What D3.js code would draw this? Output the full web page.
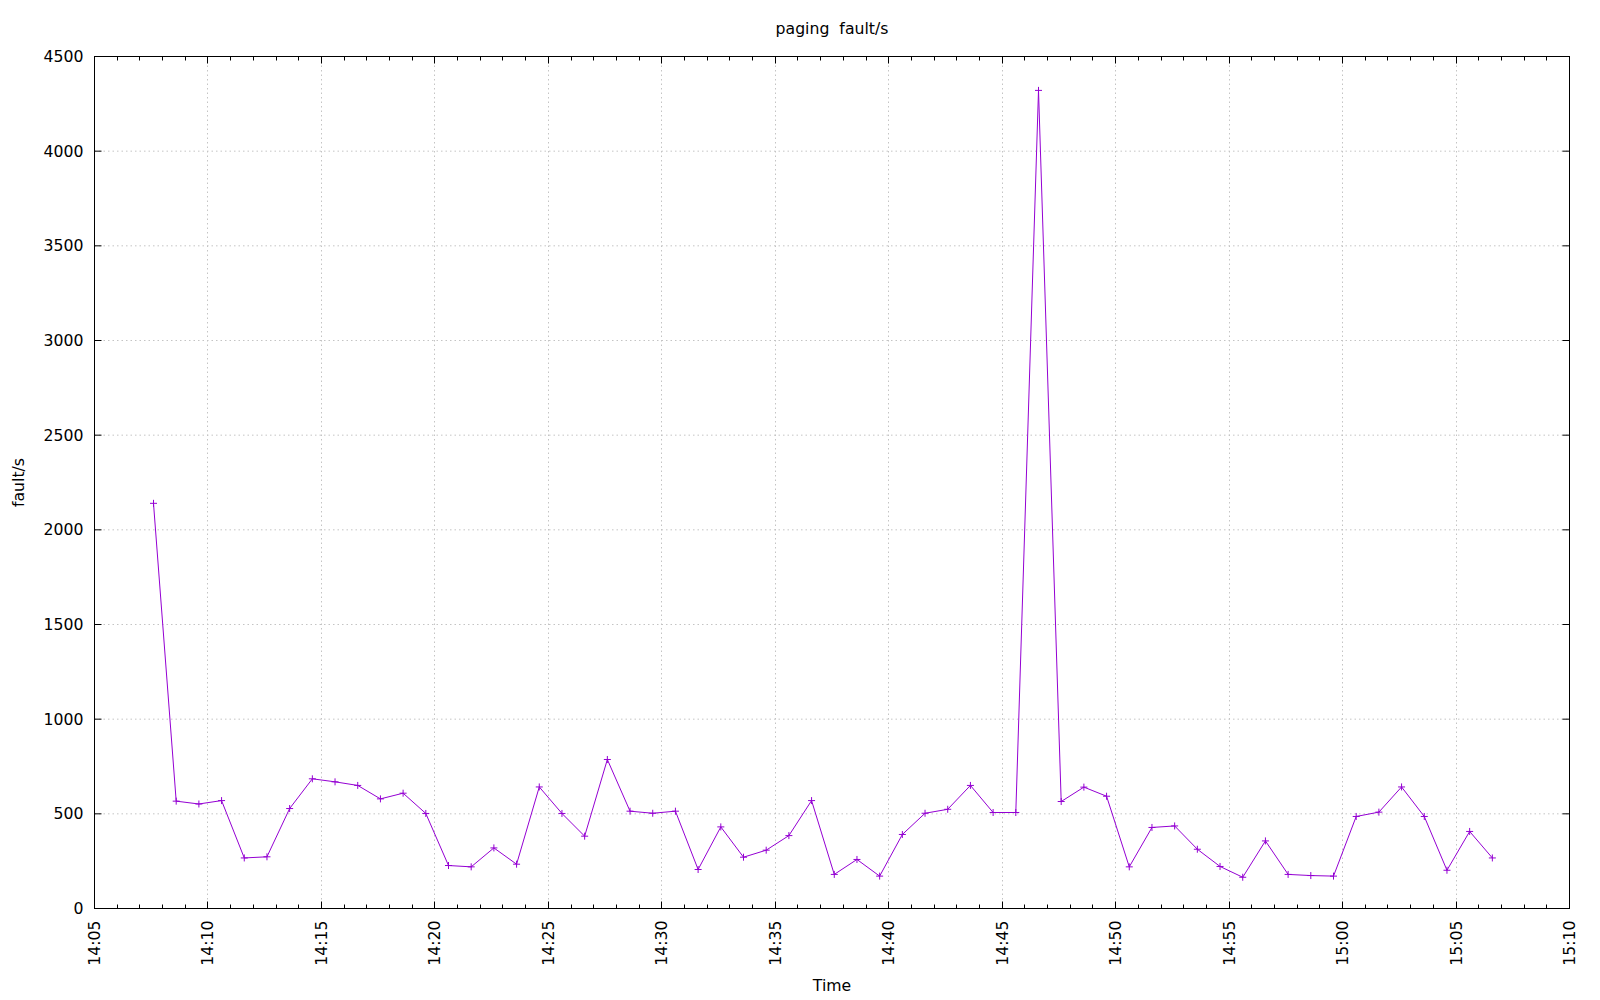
<!DOCTYPE html>
<html>
<head>
<meta charset="utf-8">
<script src="https://cdn.jsdelivr.net/npm/d3@7"></script>
<style>
  body { margin: 0; background: #fff; }
  text { font-family: "DejaVu Sans", sans-serif; font-size: 15.7px; fill: #000; }
</style>
</head>
<body>
<div id="chart"></div>
<script>
const TITLE = "paging  fault/s";
const X_LABEL = "Time";
const Y_LABEL = "fault/s";

const xDomain = ["14:05:00", "15:10:00"];
const yDomain = [0, 4500];

const times = [
  "14:07:36", "14:08:36", "14:09:36", "14:10:36", "14:11:36", "14:12:36", "14:13:36", "14:14:36", "14:15:36", "14:16:36",
  "14:17:36", "14:18:36", "14:19:36", "14:20:36", "14:21:36", "14:22:36", "14:23:36", "14:24:36", "14:25:36", "14:26:36",
  "14:27:36", "14:28:36", "14:29:36", "14:30:36", "14:31:36", "14:32:36", "14:33:36", "14:34:36", "14:35:36", "14:36:36",
  "14:37:36", "14:38:36", "14:39:36", "14:40:36", "14:41:36", "14:42:36", "14:43:36", "14:44:36", "14:45:36", "14:46:36",
  "14:47:36", "14:48:36", "14:49:36", "14:50:36", "14:51:36", "14:52:36", "14:53:36", "14:54:36", "14:55:36", "14:56:36",
  "14:57:36", "14:58:36", "14:59:36", "15:00:36", "15:01:36", "15:02:36", "15:03:36", "15:04:36", "15:05:36", "15:06:36"
];

const faults = [
  2140, 567, 552, 570, 267, 273, 528, 685, 669, 650,
  579, 609, 502, 227, 220, 320, 234, 642, 502, 382,
  787, 514, 503, 514, 206, 431, 271, 308, 385, 570,
  180, 259, 171, 391, 503, 524, 650, 507, 507, 4321,
  565, 641, 593, 220, 428, 436, 313, 222, 165, 357,
  180, 174, 171, 486, 509, 642, 486, 202, 407, 267
];

const width = 1600;
const height = 1000;
const plotLeft = 94.5, plotRight = 1569.5, plotTop = 56.5, plotBottom = 908.5;
const lineColor = "#9400d3";

const parseTime = d3.timeParse("%H:%M:%S");
const data = times.map((t, i) => ({ t: parseTime(t), v: faults[i] }));

const x = d3.scaleTime().domain(xDomain.map(parseTime)).range([plotLeft, plotRight]);
const y = d3.scaleLinear().domain(yDomain).range([plotBottom, plotTop]);

const xMajor = x.ticks(d3.timeMinute.every(5));
const xMinor = x.ticks(d3.timeMinute.every(1));
const yMajor = y.ticks(10);

const svg = d3.select("#chart")
  .append("svg")
  .attr("width", width)
  .attr("height", height);

const xTickPos = d => Math.round(x(d) - 0.5) + 0.5;
const isMajor = d => d.getMinutes() % 5 === 0;

// Grid
const grid = svg.append("g")
  .attr("stroke", "#c4c4c4")
  .attr("stroke-width", 1)
  .attr("stroke-dasharray", "1.5,3");

grid.selectAll(".vgrid")
  .data(xMajor)
  .enter()
  .append("line")
  .attr("x1", xTickPos)
  .attr("x2", xTickPos)
  .attr("y1", plotBottom)
  .attr("y2", plotTop);

grid.selectAll(".hgrid")
  .data(yMajor)
  .enter()
  .append("line")
  .attr("x1", plotLeft)
  .attr("x2", plotRight)
  .attr("y1", d => y(d))
  .attr("y2", d => y(d));

// Ticks (mirrored on all sides, pointing inward)
const ticks = svg.append("g").attr("stroke", "#000").attr("stroke-width", 1);

ticks.selectAll(".xtick-b")
  .data(xMinor)
  .enter()
  .append("line")
  .attr("x1", xTickPos)
  .attr("x2", xTickPos)
  .attr("y1", plotBottom)
  .attr("y2", d => plotBottom - (isMajor(d) ? 7 : 4));

ticks.selectAll(".xtick-t")
  .data(xMinor)
  .enter()
  .append("line")
  .attr("x1", xTickPos)
  .attr("x2", xTickPos)
  .attr("y1", plotTop)
  .attr("y2", d => plotTop + (isMajor(d) ? 7 : 4));

ticks.selectAll(".ytick-l")
  .data(yMajor)
  .enter()
  .append("line")
  .attr("x1", plotLeft)
  .attr("x2", plotLeft + 7)
  .attr("y1", d => y(d))
  .attr("y2", d => y(d));

ticks.selectAll(".ytick-r")
  .data(yMajor)
  .enter()
  .append("line")
  .attr("x1", plotRight)
  .attr("x2", plotRight - 7)
  .attr("y1", d => y(d))
  .attr("y2", d => y(d));

// Border
svg.append("rect")
  .attr("x", plotLeft)
  .attr("y", plotTop)
  .attr("width", plotRight - plotLeft)
  .attr("height", plotBottom - plotTop)
  .attr("fill", "none")
  .attr("stroke", "#000")
  .attr("stroke-width", 1);

// Tick labels
const fmt = d3.timeFormat("%H:%M");
svg.append("g")
  .selectAll("text")
  .data(xMajor)
  .enter()
  .append("text")
  .attr("transform", d => `translate(${x(d)}, ${plotBottom + 12}) rotate(-90)`)
  .attr("text-anchor", "end")
  .attr("dy", "0.35em")
  .text(fmt);

svg.append("g")
  .selectAll("text")
  .data(yMajor)
  .enter()
  .append("text")
  .attr("x", plotLeft - 11)
  .attr("y", d => y(d))
  .attr("dy", "0.35em")
  .attr("text-anchor", "end")
  .text(d => d);

// Titles
const cx = (plotLeft + plotRight) / 2;
svg.append("text")
  .attr("x", cx)
  .attr("y", 29)
  .attr("dy", "0.35em")
  .attr("text-anchor", "middle")
  .style("white-space", "pre")
  .text(TITLE);

svg.append("text")
  .attr("x", cx)
  .attr("y", 986)
  .attr("dy", "0.35em")
  .attr("text-anchor", "middle")
  .text(X_LABEL);

svg.append("text")
  .attr("transform", `translate(18, ${(plotTop + plotBottom) / 2}) rotate(-90)`)
  .attr("dy", "0.35em")
  .attr("text-anchor", "middle")
  .text(Y_LABEL);

// Series
const line = d3.line().x(d => x(d.t)).y(d => y(d.v));

svg.append("path")
  .datum(data)
  .attr("d", line)
  .attr("fill", "none")
  .attr("stroke", lineColor)
  .attr("stroke-width", 1);

svg.append("g")
  .attr("stroke", lineColor)
  .attr("stroke-width", 1)
  .selectAll("path")
  .data(data)
  .enter()
  .append("path")
  .attr("d", d => {
    const px = x(d.t), py = y(d.v), r = 3.5;
    return `M${px - r},${py}H${px + r}M${px},${py - r}V${py + r}`;
  });
</script>
</body>
</html>
